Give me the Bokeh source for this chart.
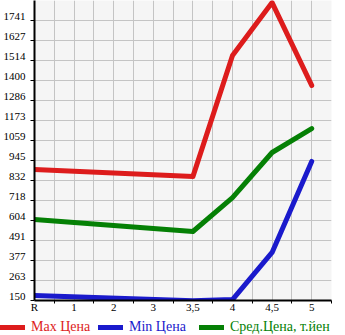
from bokeh.plotting import figure
from bokeh.models import (FixedTicker, Legend, LegendItem, Range1d, LinearAxis,
                          CustomLabelingPolicy)
from bokeh.embed import file_html
from bokeh.resources import INLINE

# ---- data ----
categories = ["R", "1", "2", "3", "3,5", "4", "4,5", "5"]
point_cats = ["R", "3,5", "4", "4,5", "5"]
max_price = [894, 854, 1542, 1843, 1372]
min_price = [178, 148, 155, 423, 940]
avg_price = [610, 542, 735, 991, 1127]
y_ticks = [150, 263, 377, 491, 604, 718, 832, 945, 1059, 1173, 1286, 1400, 1514, 1627, 1741]
series_names = ["Max Цена", "Min Цена", "Сред.Цена, т.йен"]
series_colors = ["#dd1c1c", "#1a1acc", "#058005"]

pos = {c: i for i, c in enumerate(categories)}
xs = [pos[c] for c in point_cats]
series = [max_price, min_price, avg_price]
y_step = (y_ticks[-1] - y_ticks[0]) / (len(y_ticks) - 1)
y_start, y_end = y_ticks[0], y_ticks[-1] + y_step

FONT = "Liberation Serif"
GRID = "#c4c4c4"

p = figure(width=345, height=318, output_backend="svg", toolbar_location=None,
           x_range=Range1d(0, len(categories) - 0.5),
           y_range=Range1d(y_start, y_end),
           min_border_left=31, min_border_right=14, min_border_top=0, min_border_bottom=18)
p.background_fill_color = "#f5f5f5"
p.border_fill_color = "white"
p.outline_line_color = None

# x axis
p.xaxis.ticker = FixedTicker(ticks=list(range(len(categories))),
                             minor_ticks=[i + 0.5 for i in range(len(categories))])
p.xaxis.major_label_overrides = {i: c for i, c in enumerate(categories)}
p.xaxis.major_tick_out = 0
p.xaxis.major_tick_in = 0
p.xaxis.minor_tick_out = 3
p.xaxis.minor_tick_in = 0
p.xaxis.major_label_standoff = -3
p.xaxis.axis_line_width = 2
p.xaxis.axis_line_color = "black"
p.xaxis.major_label_text_font = FONT
p.xaxis.major_label_text_font_size = "11px"
p.xaxis.major_label_text_color = "black"
p.xaxis.minor_tick_line_color = "black"

# y axis: ticks and line on the main axis, its labels suppressed
p.yaxis.ticker = FixedTicker(ticks=y_ticks)
p.yaxis.major_tick_out = 4
p.yaxis.major_tick_in = 0
p.yaxis.minor_tick_out = 0
p.yaxis.major_label_standoff = 0
p.yaxis.major_label_text_font_size = "0px"
p.yaxis.major_label_policy = CustomLabelingPolicy(
    code="for (const i of Array.from(indices)) indices.unset(i)")
p.yaxis.axis_line_width = 2
p.yaxis.axis_line_color = "black"
p.yaxis.major_tick_line_color = "black"

# y tick labels: sitting just above their ticks
d = 4 * (y_end - y_start) / 300
p.extra_y_ranges = {"lab": Range1d(y_start - d, y_end - d)}
lab_axis = LinearAxis(y_range_name="lab", ticker=FixedTicker(ticks=y_ticks),
                      axis_line_color=None, major_tick_line_color=None,
                      minor_tick_line_color=None, major_tick_out=0, major_tick_in=0,
                      minor_tick_out=0, minor_tick_in=0, major_label_standoff=5,
                      major_label_text_font=FONT, major_label_text_font_size="11px",
                      major_label_text_color="black")
p.add_layout(lab_axis, "left")

p.xgrid.grid_line_color = GRID
p.xgrid.minor_grid_line_color = GRID
p.ygrid.grid_line_color = GRID

for vals, col in zip(series, series_colors):
    p.line(xs, vals, line_color=col, line_width=5, line_cap="round", line_join="round")

# legend strip (separate root, so its frame is not aligned with the chart)
p2 = figure(width=345, height=17, output_backend="svg", toolbar_location=None,
            x_range=Range1d(0, 345), y_range=Range1d(0, 17),
            x_axis_location=None, y_axis_location=None, min_border=0)
p2.grid.visible = False
p2.outline_line_color = None
p2.background_fill_color = "white"
p2.border_fill_color = "white"

legend_x = [0, 98, 199]
for vals, name, col, lx in zip(series, series_names, series_colors, legend_x):
    r = p2.line(xs, vals, line_color=col, line_width=5, line_cap="round", visible=False)
    lg = Legend(items=[LegendItem(label=name, renderers=[r])], location=(lx, 0),
                orientation="horizontal", padding=0, margin=0, spacing=0,
                glyph_width=25, glyph_height=14, label_height=14, label_standoff=6,
                border_line_color=None, background_fill_alpha=0,
                inactive_fill_alpha=0,
                label_text_color=col, label_text_font=FONT, label_text_font_size="14px")
    p2.add_layout(lg, "center")

open("out.html", "w").write(file_html([p, p2], INLINE))
